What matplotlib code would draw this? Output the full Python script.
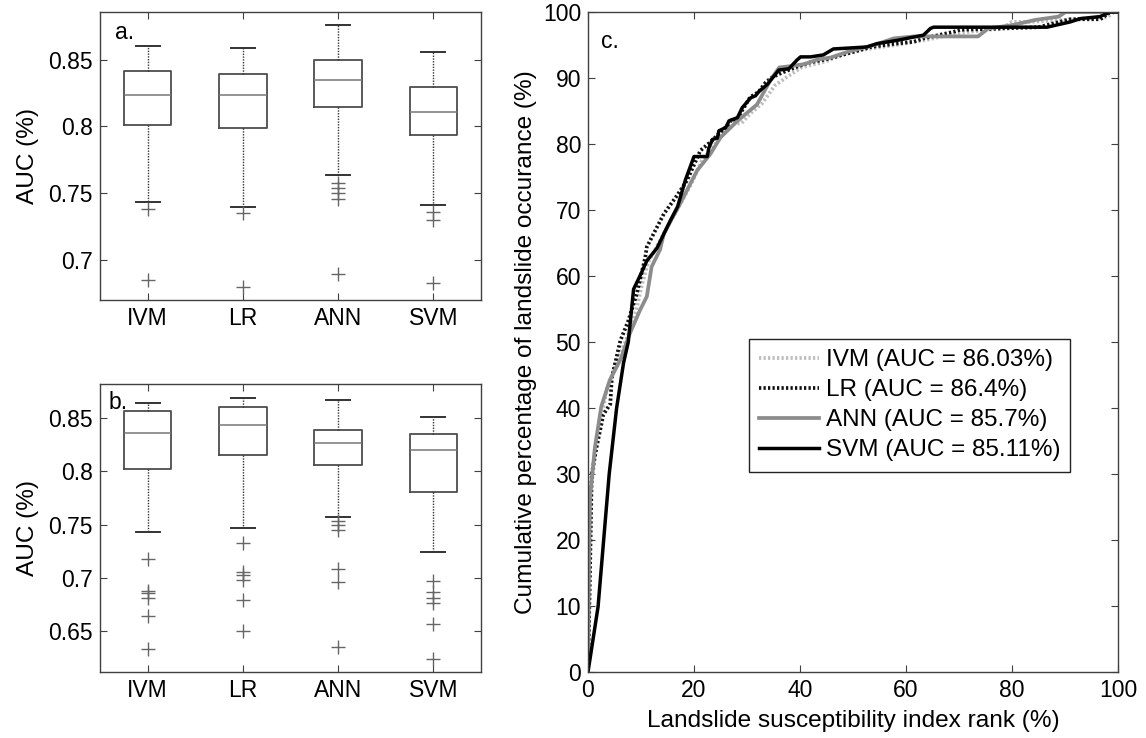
import matplotlib
matplotlib.use("Agg")
import matplotlib.pyplot as plt
from matplotlib.ticker import FuncFormatter

plt.rcParams['font.family'] = ['Liberation Sans', 'DejaVu Sans']

# ---------------- data ----------------
models = ["IVM", "LR", "ANN", "SVM"]

# panel a: [lower whisker, Q1, median, Q3, upper whisker]
a_IVM = [0.7436, 0.8010, 0.8235, 0.8415, 0.8601]
a_LR = [0.7395, 0.7989, 0.8237, 0.8394, 0.8586]
a_ANN = [0.7632, 0.8147, 0.8352, 0.8500, 0.8766]
a_SVM = [0.7409, 0.7938, 0.8111, 0.8298, 0.8561]
a_out_IVM = [0.7382, 0.6846]
a_out_LR = [0.7346, 0.6795]
a_out_ANN = [0.7573, 0.7537, 0.7500, 0.7455, 0.6891]
a_out_SVM = [0.7357, 0.7296, 0.6824]

# panel b
b_IVM = [0.7429, 0.8027, 0.8357, 0.8566, 0.8638]
b_LR = [0.7471, 0.8150, 0.8431, 0.8600, 0.8686]
b_ANN = [0.7572, 0.8059, 0.8265, 0.8391, 0.8672]
b_SVM = [0.7245, 0.7807, 0.8199, 0.8354, 0.8514]
b_out_IVM = [0.7182, 0.6884, 0.6856, 0.6810, 0.6646, 0.6340]
b_out_LR = [0.7325, 0.7062, 0.7027, 0.6984, 0.6798, 0.6503]
b_out_ANN = [0.7540, 0.7500, 0.7454, 0.7082, 0.6961, 0.6354]
b_out_SVM = [0.6976, 0.6867, 0.6810, 0.6767, 0.6569, 0.6245]

# panel c: success-rate curves
IVM_x = [0, 0.2, 0.3, 0.6, 1.5, 2.5, 3.5, 5.3, 7.2, 9.1, 10.1, 11.3, 13.0, 15.0, 17.5,
         19.5, 21.5, 23.5, 25.5, 27.5, 29.0, 30.6, 32.8, 35.3, 37.8, 40.3, 44.8, 47.9, 52,
         58, 64, 68, 72, 78, 80, 83.2, 88, 93, 98, 99.3, 100]
IVM_y = [0, 8, 16.5, 28, 34, 38.5, 42.7, 46.8, 50.3, 54.8, 58.4, 62.0, 64.5, 67.5, 71,
         74, 77.5, 79.5, 81.5, 83.0, 83.2, 84.6, 86.1, 88.9, 90.3, 91.6, 92.5, 93.5, 94.3,
         95.0, 95.8, 96.5, 97.0, 97.5, 98.5, 98.5, 98.7, 99.0, 99.2, 100, 100]
LR_x = [0, 0.2, 0.4, 0.7, 1.6, 2.9, 4.2, 4.5, 6.1, 7.6, 9.2, 10.8, 11.1, 14.3, 16.8,
        18.7, 21.2, 23.1, 24.4, 26.3, 27.0, 28.0, 29.1, 30.6, 32.2, 33.5, 34.7, 36.6, 39.1,
        41.6, 42.1, 44.8, 48, 53.4, 58, 61.5, 63.3, 69.0, 70.2, 78, 85, 91.0, 96.7, 98.5, 100]
LR_y = [0, 8, 16.5, 30, 34, 39, 40.6, 44.6, 50.2, 53.2, 57.3, 62.8, 64.4, 69.4, 72.2,
        74.5, 79.0, 80.3, 81.3, 82.8, 83.6, 83.6, 85.1, 87.1, 87.9, 89.3, 90.1, 90.8, 91.6,
        92.3, 92.4, 92.8, 93.5, 94.7, 95.2, 95.5, 96.0, 97.0, 97.3, 97.5, 97.7, 98.9, 98.9, 100, 100]
ANN_x = [0, 0.2, 0.4, 1.3, 2.5, 4.1, 6.1, 7.9, 9.8, 11.1, 12.0, 13.6, 14.3, 17.4, 20.6,
         23.1, 25.0, 28.2, 31.9, 34.5, 36.1, 38.3, 40.8, 43.3, 45.8, 49.1, 54, 57.7, 61.5,
         63.3, 73.6, 75.5, 80, 84.4, 88.8, 90.1, 100]
ANN_y = [0, 16.5, 26.6, 34, 40.2, 44.2, 47.3, 51.3, 54.8, 56.9, 61.4, 64.0, 66.4, 71.0, 76.0,
         78.5, 81.0, 83.5, 86.0, 89.8, 91.6, 91.8, 92.1, 92.8, 93.1, 94.0, 95.0, 96.0, 96.3,
         96.3, 96.3, 97.5, 98.0, 98.8, 99.3, 100, 100]
SVM_x = [0, 1.9, 4.0, 5.4, 6.7, 7.6, 8.6, 9.8, 11.1, 13.0, 15.6, 16.9, 18.4, 20.0, 22.5,
         22.8, 23.5, 24.4, 24.7, 26.0, 26.6, 28.2, 29.1, 30.7, 31.6, 32.3, 33.8, 35.1, 36.0,
         37.9, 39.4, 40.1, 42.0, 44.4, 46.3, 52.6, 54.5, 58.3, 63.3, 64.6, 65.2, 86.6, 91.0,
         92.9, 96.6, 98.5, 100]
SVM_y = [0, 9.9, 30, 40, 46.8, 50, 58, 60, 62.3, 64.2, 68.5, 70.5, 74.6, 78.1, 78.1,
         79.4, 80.7, 80.9, 82.0, 82.5, 83.5, 84.0, 85.5, 87.0, 87.3, 88.0, 89.0, 90.3, 91.2,
         91.4, 92.7, 93.2, 93.2, 93.5, 94.4, 94.7, 95.2, 95.7, 96.5, 97.5, 97.7, 97.7, 98.5,
         99.0, 99.3, 100, 100]
legend_labels = ["IVM (AUC = 86.03%)", "LR (AUC = 86.4%)", "ANN (AUC = 85.7%)", "SVM (AUC = 85.11%)"]

# ---------------- figure ----------------
W, H = 1146, 738
fig = plt.figure(figsize=(W / 100, H / 100), dpi=100)

def rect(l, t, r, b):
    return [l / W, 1 - b / H, (r - l) / W, (b - t) / H]

FS_TICK = 16.5
FS_LABEL = 17.6
FS_LEG = 17.5
spine_c = "#404040"

def style_axes(ax):
    for s in ax.spines.values():
        s.set_color(spine_c)
        s.set_linewidth(1.0)
    ax.tick_params(direction="in", top=True, right=True, length=5, width=0.8,
                   color=spine_c, labelsize=FS_TICK, pad=5)

def make_stats(vals, outs):
    lo, q1, med, q3, hi = vals
    return dict(whislo=lo, q1=q1, med=med, q3=q3, whishi=hi, fliers=outs)

def box_panel(ax, data, outs, ylim, yticks, letter, letter_pos):
    stats = [make_stats(v, o) for v, o in zip(data, outs)]
    ax.bxp(stats, positions=[1, 2, 3, 4], widths=0.5, capwidths=0.25,
           boxprops=dict(color="#4d4d4d", linewidth=1.3),
           medianprops=dict(color="#777777", linewidth=1.1),
           whiskerprops=dict(color="#333333", linewidth=1.0, linestyle=(0, (1, 1))),
           capprops=dict(color="#333333", linewidth=1.4),
           flierprops=dict(marker="+", markersize=10, markeredgecolor="#666666",
                           markeredgewidth=1.0, linestyle="none"))
    ax.set_xlim(0.5, 4.5)
    ax.set_ylim(*ylim)
    ax.set_yticks(yticks)
    ax.yaxis.set_major_formatter(FuncFormatter(lambda v, p: "%g" % round(v, 3)))
    ax.set_xticks([1, 2, 3, 4])
    ax.set_xticklabels(models)
    ax.set_ylabel("AUC (%)", fontsize=FS_LABEL, labelpad=7)
    style_axes(ax)
    ax.text(letter_pos[0], letter_pos[1], letter, transform=ax.transAxes,
            fontsize=FS_TICK, va="center", ha="left")

ax_a = fig.add_axes(rect(100, 12, 481, 300))
box_panel(ax_a, [a_IVM, a_LR, a_ANN, a_SVM], [a_out_IVM, a_out_LR, a_out_ANN, a_out_SVM],
          (0.6696, 0.886), [0.7, 0.75, 0.8, 0.85], "a.", (0.04, 0.93))

ax_b = fig.add_axes(rect(100, 384, 481, 672))
box_panel(ax_b, [b_IVM, b_LR, b_ANN, b_SVM], [b_out_IVM, b_out_LR, b_out_ANN, b_out_SVM],
          (0.612, 0.882), [0.65, 0.7, 0.75, 0.8, 0.85], "b.", (0.022, 0.935))

ax_c = fig.add_axes(rect(588, 12, 1118, 672))
dot = (0, (0.6, 0.6))
ax_c.plot(IVM_x, IVM_y, color="#bdbdbd", linewidth=2.7, linestyle=dot, dash_capstyle="butt",
          label=legend_labels[0])
ax_c.plot(LR_x, LR_y, color="#111111", linewidth=2.7, linestyle=dot, dash_capstyle="butt",
          label=legend_labels[1])
ax_c.plot(ANN_x, ANN_y, color="#8c8c8c", linewidth=2.7, linestyle="-", label=legend_labels[2])
ax_c.plot(SVM_x, SVM_y, color="#000000", linewidth=2.5, linestyle="-", label=legend_labels[3])
ax_c.set_xlim(0, 100)
ax_c.set_ylim(0, 100)
ax_c.set_xticks(range(0, 101, 20))
ax_c.set_yticks(range(0, 101, 10))
style_axes(ax_c)
ax_c.set_xlabel("Landslide susceptibility index rank (%)", fontsize=FS_LABEL, labelpad=6)
ax_c.set_ylabel("Cumulative percentage of landslide occurance (%)", fontsize=FS_LABEL, labelpad=4)
ax_c.text(0.025, 0.955, "c.", transform=ax_c.transAxes, fontsize=FS_TICK, va="center", ha="left")
leg = ax_c.legend(loc="upper left", bbox_to_anchor=(0.304, 0.5045), fontsize=FS_LEG,
                  frameon=True, fancybox=False, framealpha=1, edgecolor="#222222",
                  handlelength=2.45, handletextpad=0.28, labelspacing=0.33,
                  borderpad=0.42, borderaxespad=0)
leg.get_frame().set_linewidth(1.0)

fig.savefig("out.png", dpi=100)
